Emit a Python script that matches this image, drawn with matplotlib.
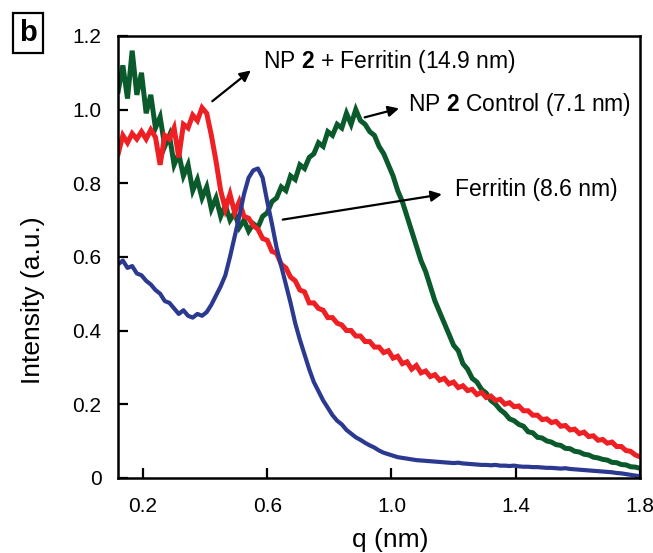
import numpy as np
import matplotlib
matplotlib.use("Agg")
import matplotlib.pyplot as plt

plt.rcParams["font.family"] = ["Liberation Sans", "DejaVu Sans"]
plt.rcParams["mathtext.fontset"] = "custom"
plt.rcParams["mathtext.rm"] = "Liberation Sans"
plt.rcParams["mathtext.bf"] = "Liberation Sans:bold"

# q grid (nm), one sample every 0.015
q = np.linspace(0.12, 1.80, 113)

control = [
    1.05, 1.12, 1.03, 1.16, 1.04, 1.10, 0.99, 1.04, 0.95, 0.98,
    0.90, 0.93, 0.85, 0.88, 0.82, 0.85, 0.78, 0.81, 0.76, 0.79,
    0.73, 0.76, 0.71, 0.74, 0.70, 0.72, 0.68, 0.70, 0.67, 0.69,
    0.68, 0.71, 0.72, 0.75, 0.76, 0.79, 0.78, 0.82, 0.81, 0.85,
    0.84, 0.87, 0.88, 0.91, 0.90, 0.94, 0.93, 0.96, 0.95, 0.99,
    0.96, 1.00, 0.97, 0.96, 0.94, 0.93, 0.90, 0.88, 0.85, 0.82,
    0.78, 0.75, 0.71, 0.67, 0.63, 0.59, 0.56, 0.52, 0.48, 0.45,
    0.42, 0.39, 0.36, 0.345, 0.31, 0.295, 0.27, 0.26, 0.24, 0.23,
    0.21, 0.20, 0.185, 0.175, 0.16, 0.155, 0.145, 0.14, 0.125, 0.122,
    0.11, 0.108, 0.10, 0.097, 0.09, 0.088, 0.08, 0.079, 0.072, 0.070,
    0.064, 0.062, 0.056, 0.054, 0.050, 0.048, 0.042, 0.041, 0.036, 0.035,
    0.030, 0.029, 0.026,
]

np2_ferritin = [
    0.88, 0.93, 0.91, 0.935, 0.92, 0.94, 0.92, 0.945, 0.925, 0.85,
    0.93, 0.92, 0.95, 0.87, 0.96, 0.95, 0.985, 0.97, 1.005, 0.99,
    0.93, 0.86, 0.78, 0.73, 0.77, 0.72, 0.75, 0.71, 0.705, 0.685,
    0.675, 0.65, 0.645, 0.615, 0.61, 0.58, 0.57, 0.545, 0.535, 0.51,
    0.505, 0.475, 0.475, 0.46, 0.455, 0.435, 0.435, 0.42, 0.415, 0.40,
    0.40, 0.385, 0.385, 0.37, 0.37, 0.355, 0.355, 0.34, 0.345, 0.325,
    0.33, 0.31, 0.315, 0.295, 0.305, 0.285, 0.29, 0.275, 0.28, 0.265,
    0.27, 0.255, 0.26, 0.245, 0.25, 0.237, 0.24, 0.226, 0.232, 0.218,
    0.222, 0.21, 0.213, 0.2, 0.204, 0.193, 0.195, 0.182, 0.182, 0.17,
    0.17, 0.158, 0.16, 0.15, 0.153, 0.14, 0.142, 0.13, 0.132, 0.12,
    0.124, 0.112, 0.114, 0.102, 0.104, 0.094, 0.097, 0.085, 0.085, 0.074,
    0.072, 0.062, 0.057,
]

ferritin = [
    0.58, 0.59, 0.57, 0.575, 0.555, 0.55, 0.535, 0.525, 0.51, 0.50,
    0.48, 0.475, 0.46, 0.445, 0.455, 0.44, 0.435, 0.445, 0.44, 0.45,
    0.47, 0.495, 0.52, 0.55, 0.60, 0.655, 0.71, 0.77, 0.815, 0.835,
    0.84, 0.815, 0.75, 0.69, 0.625, 0.575, 0.525, 0.475, 0.42, 0.375,
    0.335, 0.295, 0.26, 0.235, 0.21, 0.19, 0.17, 0.155, 0.145, 0.13,
    0.12, 0.11, 0.103, 0.095, 0.088, 0.082, 0.074, 0.068, 0.064, 0.060,
    0.056, 0.054, 0.052, 0.050, 0.048, 0.047, 0.046, 0.045, 0.044, 0.043,
    0.042, 0.041, 0.040, 0.041, 0.039, 0.038, 0.037, 0.036, 0.035, 0.035,
    0.034, 0.035, 0.033, 0.033, 0.032, 0.033, 0.031, 0.030, 0.030, 0.029,
    0.029, 0.028, 0.027, 0.027, 0.026, 0.025, 0.026, 0.024, 0.023, 0.022,
    0.021, 0.020, 0.019, 0.018, 0.017, 0.016, 0.015, 0.013, 0.012, 0.010,
    0.008, 0.006, 0.004,
]

fig = plt.figure(figsize=(6.53, 5.53), dpi=100)
ax = fig.add_axes([0.181, 0.136, 0.799, 0.799])

ax.plot(q, control, color="#0b5a2c", lw=3.6, solid_joinstyle="miter")
ax.plot(q, np2_ferritin, color="#ee2024", lw=3.6, solid_joinstyle="miter")
ax.plot(q, ferritin, color="#2b3990", lw=3.0)

ax.set_xlim(0.12, 1.80)
ax.set_ylim(0, 1.2)
ax.set_xticks([0.2, 0.6, 1.0, 1.4, 1.8])
ax.set_xticklabels(["0.2", "0.6", "1.0", "1.4", "1.8"])
ax.set_yticks([0, 0.2, 0.4, 0.6, 0.8, 1.0, 1.2])
ax.set_yticklabels(["0", "0.2", "0.4", "0.6", "0.8", "1.0", "1.2"])
ax.tick_params(direction="in", length=7, width=1.6, labelsize=15, colors="black")
ax.tick_params(axis="x", pad=14)
ax.tick_params(axis="y", pad=12)
for s in ax.spines.values():
    s.set_linewidth(1.8)

arrow = dict(arrowstyle="-|>", color="black", lw=1.6, mutation_scale=16)
ax.annotate("", xy=(0.554, 1.111), xytext=(0.416, 1.018), arrowprops=arrow)
ax.annotate("", xy=(1.033, 1.005), xytext=(0.905, 0.977), arrowprops=arrow)
ax.annotate("", xy=(1.171, 0.771), xytext=(0.641, 0.700), arrowprops=arrow)

ax.text(0.586, 1.13, r"NP $\mathbf{2}$ + Ferritin (14.9 nm)", fontsize=16.5,
        ha="left", va="center")
ax.text(1.052, 1.013, r"NP $\mathbf{2}$ Control (7.1 nm)", fontsize=16.5,
        ha="left", va="center")
ax.text(1.204, 0.782, "Ferritin (8.6 nm)", fontsize=16.5, ha="left", va="center")

fig.text(33 / 653, 1 - 300 / 553, "Intensity (a.u.)", rotation=90, fontsize=19,
         ha="center", va="center")
fig.text(390 / 653, 1 - 540 / 553, "q (nm)", fontsize=19, ha="center", va="center")
fig.text(28 / 653, 1 - 33 / 553, "b", fontsize=21, fontweight="bold",
         ha="center", va="center",
         bbox=dict(boxstyle="square,pad=0.2", fc="white", ec="black", lw=1.6))

fig.savefig("out.png", dpi=100)
